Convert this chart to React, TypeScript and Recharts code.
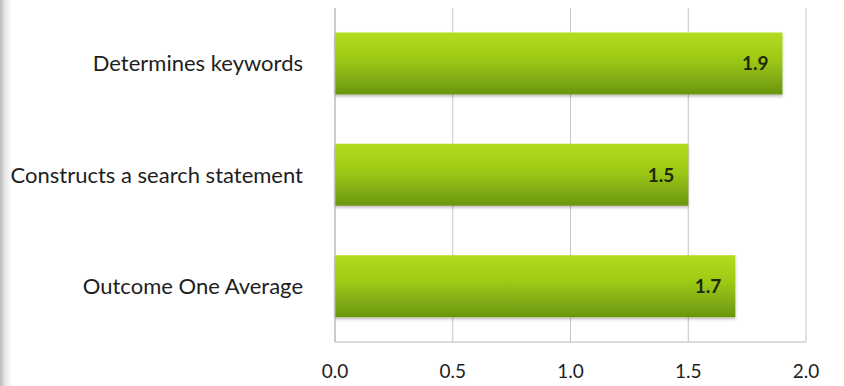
import { BarChart, Bar, XAxis, YAxis, CartesianGrid, LabelList } from 'recharts'

const categories = ['Determines keywords', 'Constructs a search statement', 'Outcome One Average']
const scores = [1.9, 1.5, 1.7]
const xTicks = [0, 0.5, 1, 1.5, 2]

const data = categories.map((name, i) => ({ name, score: scores[i] }))

export default function App() {
  return (
    <div
      style={{
        position: 'fixed',
        top: 0,
        left: 0,
        width: 844,
        height: 386,
        background: 'linear-gradient(to right, #b9b9b9 0px, #e6e6e6 5px, #ffffff 12px)',
        fontFamily: 'Lato, "Open Sans", sans-serif',
      }}
    >
      <BarChart
        width={844}
        height={386}
        data={data}
        layout="vertical"
        margin={{ top: 8, right: 38, bottom: 0, left: 0 }}
        barCategoryGap="22%"
      >
        <defs>
          <linearGradient id="barFill" x1="0" y1="0" x2="0" y2="1">
            <stop offset="0%" stopColor="#b2dc1e" />
            <stop offset="45%" stopColor="#9cc816" />
            <stop offset="100%" stopColor="#6a9510" />
          </linearGradient>
          <filter id="barShadow" x="-5%" y="-10%" width="110%" height="130%">
            <feDropShadow dx="0" dy="2" stdDeviation="1.5" floodColor="#000" floodOpacity="0.25" />
          </filter>
        </defs>
        <CartesianGrid horizontal={false} stroke="#c4c4c4" />
        <XAxis
          type="number"
          domain={[0, 2]}
          ticks={xTicks}
          tickFormatter={(v: number) => v.toFixed(1)}
          height={44}
          tickLine={false}
          axisLine={{ stroke: '#b8b8b8' }}
          tickMargin={17}
          tick={{ fill: '#1e1e1e', fontSize: 19 }}
          interval={0}
        />
        <YAxis
          type="category"
          dataKey="name"
          width={335}
          tickLine={false}
          axisLine={{ stroke: '#b8b8b8' }}
          tickMargin={26}
          tick={{ fill: '#1e1e1e', fontSize: 22 }}
        />
        <Bar dataKey="score" fill="url(#barFill)" filter="url(#barShadow)" isAnimationActive={false}>
          <LabelList
            dataKey="score"
            position="insideRight"
            offset={14}
            formatter={(v: number) => v.toFixed(1)}
            style={{ fill: '#1c2a05', fontSize: 19, fontWeight: 700 }}
          />
        </Bar>
      </BarChart>
    </div>
  )
}
